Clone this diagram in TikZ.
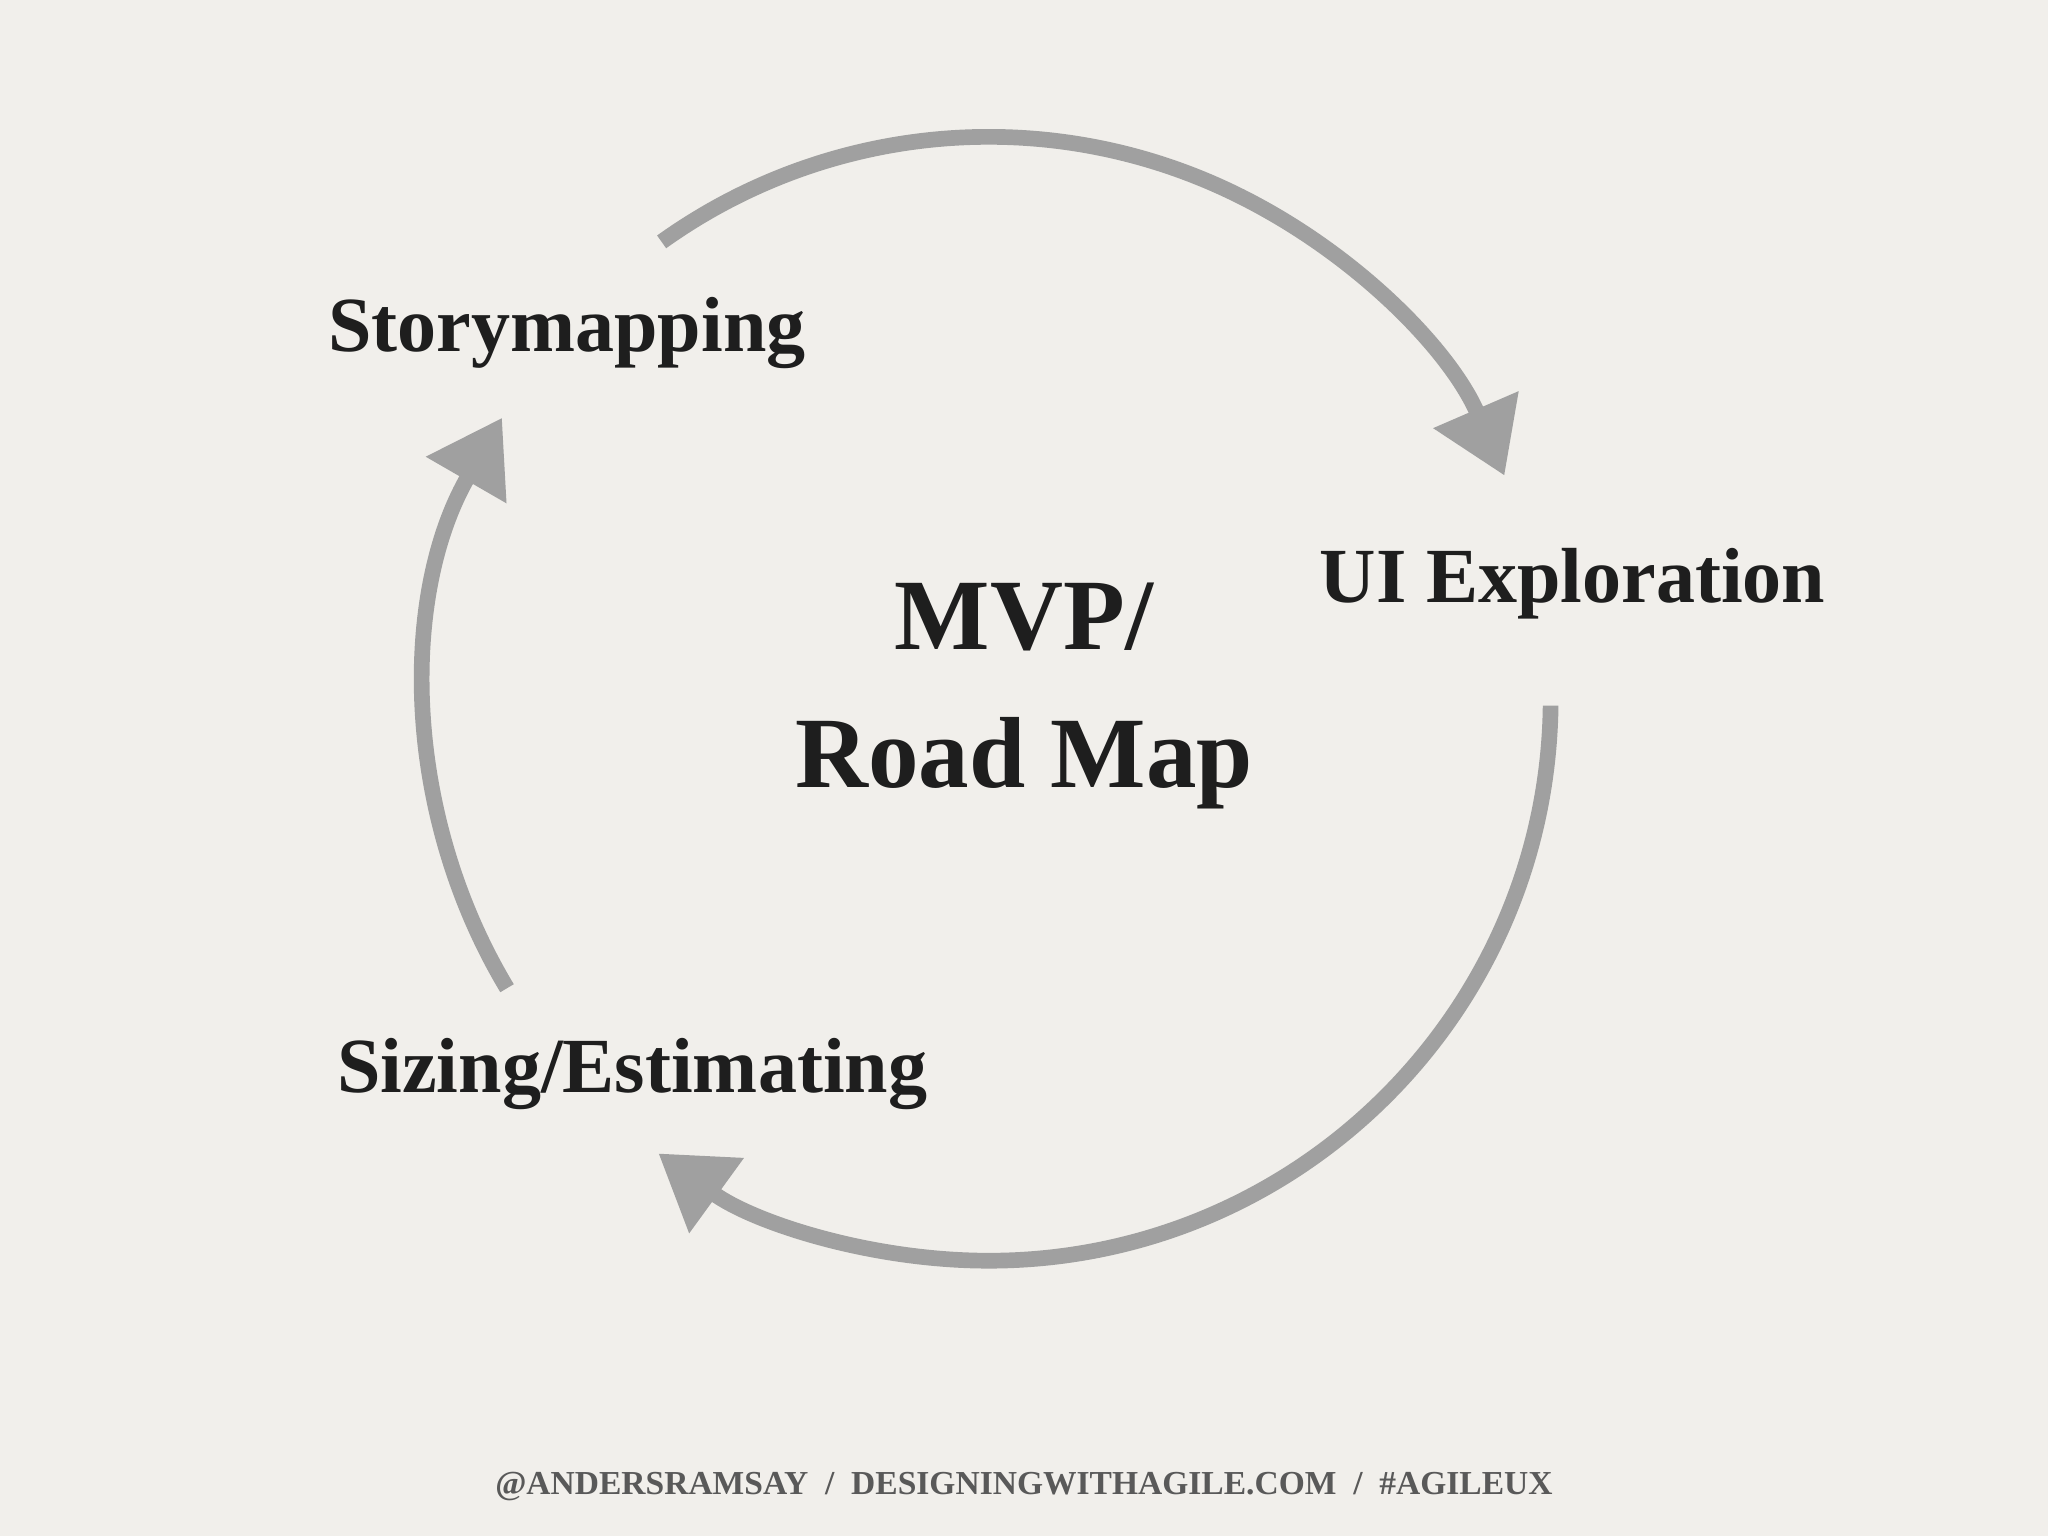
\documentclass[tikz,border=0pt]{standalone}
\usepackage{fontspec}
\setmainfont{Liberation Serif}
\usetikzlibrary{arrows.meta}
\definecolor{bg}{HTML}{F1EFEB}
\definecolor{arc}{HTML}{A0A0A0}
\definecolor{txt}{HTML}{1E1E1E}
\tikzset{
 cyc/.style={draw=arc,line width=0.12cm,-{Triangle[width=0.68cm,length=0.55cm]}},
 lbl/.style={font=\bfseries\fontsize{17pt}{20pt}\selectfont,text=txt},
 big/.style={font=\bfseries\fontsize{22pt}{30pt}\selectfont,text=txt,align=center}
}
\begin{document}
\begin{tikzpicture}[x=0.01cm,y=-0.01cm]
\fill[bg] (0,0) rectangle (1568,1176);
\useasboundingbox (0,0) rectangle (1568,1176);
\coordinate (c) at (757,535);
\draw[cyc] ([shift={(125.6:4.3cm)}]c) arc[start angle=125.6,end angle=23.4,radius=4.3cm];
\draw[cyc] ([shift={(-0.7:4.3cm)}]c) arc[start angle=-0.7,end angle=-126,radius=4.3cm];
\draw[cyc] ([shift={(211:4.3cm)}]c) arc[start angle=211,end angle=150,radius=4.3cm];
\node[lbl] (sm) at (434,255) {Storymapping};
\node[lbl] (ui) at (1204,447) {UI Exploration};
\node[lbl] (se) at (484,822) {Sizing/Estimating};
\node[big] (mvp) at (784,533) {MVP/\\Road Map};
\node[font=\bfseries\fontsize{7.3pt}{8pt}\selectfont,text=black!65] (ft) at (784,1138) {@ANDERSRAMSAY \ / \ DESIGNINGWITHAGILE.COM \ / \ \#AGILEUX};
\end{tikzpicture}
\end{document}
